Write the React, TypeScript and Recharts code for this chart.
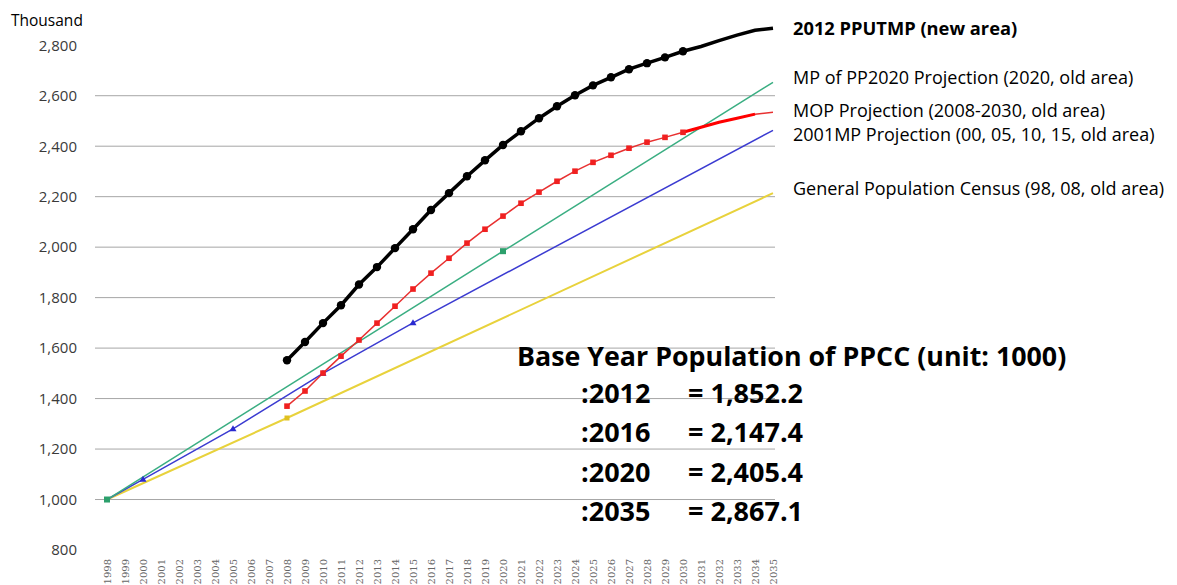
import { CartesianGrid, Line, LineChart, XAxis, YAxis } from "recharts";

const years = [
  1998, 1999, 2000, 2001, 2002, 2003, 2004, 2005, 2006, 2007, 2008, 2009, 2010,
  2011, 2012, 2013, 2014, 2015, 2016, 2017, 2018, 2019, 2020, 2021, 2022, 2023,
  2024, 2025, 2026, 2027, 2028, 2029, 2030, 2031, 2032, 2033, 2034, 2035,
];

const _ = null;

// 2012 PPUTMP (new area)
const pputmp = [
  _, _, _, _, _, _, _, _, _, _,
  1552, 1624, 1699, 1770, 1852, 1921, 1996, 2071, 2147, 2214, 2281, 2344, 2405,
  2459, 2511, 2558, 2602, 2641, 2673, 2705, 2729, 2752, 2776, 2795, 2818, 2840,
  2859, 2867,
];
// MOP Projection (2008-2030, old area)
const mop = [
  _, _, _, _, _, _, _, _, _, _,
  1370, 1430, 1501, 1568, 1632, 1699, 1766, 1834, 1897, 1956, 2016, 2071, 2123,
  2174, 2218, 2261, 2301, 2336, 2364, 2392, 2416, 2435, 2455, 2475, 2495, 2511,
  2527, 2534,
];
// MP of PP2020 Projection
const mp2020 = [
  1000, _, _, _, _, _, _, _, _, _, _, _, _, _, _, _, _, _, _, _, _, _, 1984,
  _, _, _, _, _, _, _, _, _, _, _, _, _, _, 2653,
];
// 2001MP Projection
const mp2001 = [
  1000, _, 1080, _, _, _, _, 1280, _, _, _, _, 1500, _, _, _, _, 1700, _, _, _,
  _, _, _, _, _, _, _, _, _, _, _, _, _, _, _, _, 2463,
];
// General Population Census
const census = [
  1000, _, _, _, _, _, _, _, _, _, 1323, _, _, _, _, _, _, _, _, _, _, _, _,
  _, _, _, _, _, _, _, _, _, _, _, _, _, _, 2214,
];

const pputmpMarked = years.filter((y) => y <= 2030);
const mopMarked = years.filter((y) => y <= 2030);
const mp2020Marked = [1998, 2020];
const mp2001Marked = [2000, 2005, 2010, 2015];
const censusMarked = [2008];
const mopBoldYears = [2030, 2031, 2032, 2033, 2034];

const yTicks = [800, 1000, 1200, 1400, 1600, 1800, 2000, 2200, 2400, 2600, 2800];
const gridValues = [1000, 1200, 1400, 1600, 1800, 2000, 2200, 2400, 2600];

const baseYearTitle = "Base Year Population of PPCC (unit: 1000)";
const baseYears = [":2012", ":2016", ":2020", ":2035"];
const baseValues = ["= 1,852.2", "= 2,147.4", "= 2,405.4", "= 2,867.1"];

const data = years.map((year, i) => ({
  year,
  pputmp: pputmp[i],
  mop: mop[i],
  mopBold: mopBoldYears.includes(year) ? mop[i] : null,
  mp2020: mp2020[i],
  mp2001: mp2001[i],
  census: census[i],
}));

const FONT = "'Open Sans', Lato, sans-serif";

function makeDot(marked: number[], shape: string, color: string, size: number) {
  return (props: any) => {
    const { cx, cy, payload, index } = props;
    const key = `d-${shape}-${index}`;
    if (cy == null || !marked.includes(payload.year)) return <g key={key} />;
    if (shape === "circle") {
      return <circle key={key} cx={cx} cy={cy} r={size} fill={color} />;
    }
    if (shape === "triangle") {
      return (
        <polygon
          key={key}
          points={`${cx},${cy - size} ${cx - size},${cy + size * 0.7} ${cx + size},${cy + size * 0.7}`}
          fill={color}
        />
      );
    }
    return (
      <rect
        key={key}
        x={cx - size}
        y={cy - size}
        width={size * 2}
        height={size * 2}
        fill={color}
      />
    );
  };
}

function makeEndLabel(text: string, dy: number, bold = false) {
  return (props: any) => {
    const { x, y, index } = props;
    if (index !== years.length - 1 || y == null) return <g key={`l-${index}`} />;
    return (
      <text
        key={`l-${index}`}
        x={x + 20}
        y={y + dy}
        dominantBaseline="central"
        fontFamily={FONT}
        fontSize={bold ? 18.3 : 18}
        fontWeight={bold ? 700 : 400}
        fill="#000"
      >
        {text}
      </text>
    );
  };
}

function XTick(props: any) {
  const { x, y, payload } = props;
  return (
    <text
      transform={`translate(${x},${y}) rotate(-90)`}
      textAnchor="end"
      dy="0.35em"
      fontFamily="'DejaVu Serif', serif"
      fontSize={10}
      fill="#666"
    >
      {payload.value}
    </text>
  );
}

export default function App() {
  return (
    <div
      style={{
        position: "absolute",
        left: 0,
        top: 0,
        width: 1177,
        height: 585,
        background: "#fff",
        overflow: "hidden",
      }}
    >
      <div
        style={{
          position: "absolute",
          left: 11,
          top: 10,
          fontFamily: FONT,
          fontSize: 15.5,
          lineHeight: "20px",
          color: "#000",
        }}
      >
        Thousand
      </div>
      <LineChart
        width={1177}
        height={585}
        data={data}
        margin={{ top: 20, right: 402, left: 0, bottom: 0 }}
      >
        <CartesianGrid
          horizontal
          vertical={false}
          horizontalValues={gridValues}
          stroke="#a6a6a6"
          strokeWidth={1}
        />
        <XAxis
          dataKey="year"
          type="number"
          domain={[1998, 2035]}
          ticks={years}
          interval={0}
          padding={{ left: 12, right: 2 }}
          axisLine={false}
          tickLine={false}
          tickSize={0}
          tickMargin={9}
          height={35}
          tick={<XTick />}
        />
        <YAxis
          type="number"
          domain={[800, 2900]}
          ticks={yTicks}
          interval={0}
          axisLine={false}
          tickLine={false}
          tickSize={6}
          tickMargin={12}
          width={95}
          tick={{ fontSize: 15, fill: "#3a3a3a", fontFamily: "'Open Sans', sans-serif" }}
          tickFormatter={(v) => Number(v).toLocaleString("en-US")}
        />
        <Line
          dataKey="census"
          stroke="#e8d23c"
          strokeWidth={2}
          connectNulls
          dot={makeDot(censusMarked, "rect", "#e0c020", 2.5)}
          activeDot={false}
          label={makeEndLabel("General Population Census (98, 08, old area)", -5)}
          isAnimationActive={false}
        />
        <Line
          dataKey="mp2001"
          stroke="#3b3bd1"
          strokeWidth={1.5}
          connectNulls
          dot={makeDot(mp2001Marked, "triangle", "#2a2ad0", 3.5)}
          activeDot={false}
          label={makeEndLabel("2001MP Projection (00, 05, 10, 15, old area)", 4)}
          isAnimationActive={false}
        />
        <Line
          dataKey="mp2020"
          stroke="#3aae82"
          strokeWidth={1.5}
          connectNulls
          dot={makeDot(mp2020Marked, "rect", "#2ca06c", 3)}
          activeDot={false}
          label={makeEndLabel("MP of PP2020 Projection (2020, old area)", -5)}
          isAnimationActive={false}
        />
        <Line
          dataKey="mop"
          stroke="#e83030"
          strokeWidth={1.5}
          connectNulls
          dot={makeDot(mopMarked, "rect", "#f02020", 2.8)}
          activeDot={false}
          label={makeEndLabel("MOP Projection (2008-2030, old area)", -2)}
          isAnimationActive={false}
        />
        <Line
          dataKey="mopBold"
          stroke="#ff0000"
          strokeWidth={3}
          dot={false}
          activeDot={false}
          isAnimationActive={false}
        />
        <Line
          dataKey="pputmp"
          stroke="#000"
          strokeWidth={3.5}
          connectNulls
          dot={makeDot(pputmpMarked, "circle", "#000", 4.2)}
          activeDot={false}
          label={makeEndLabel("2012 PPUTMP (new area)", -1, true)}
          isAnimationActive={false}
        />
      </LineChart>
      <div
        style={{
          position: "absolute",
          left: 517,
          top: 339,
          fontFamily: FONT,
          fontWeight: 700,
          fontSize: 26.8,
          lineHeight: "34px",
          whiteSpace: "nowrap",
          color: "#000",
        }}
      >
        {baseYearTitle}
      </div>
      {baseYears.map((label, i) => (
        <div
          key={label}
          style={{
            position: "absolute",
            left: 581,
            top: 376 + i * 39.3,
            fontFamily: FONT,
            fontWeight: 700,
            fontSize: 27,
            lineHeight: "34px",
            whiteSpace: "nowrap",
            color: "#000",
          }}
        >
          <span style={{ display: "inline-block", width: 107 }}>{label}</span>
          <span>{baseValues[i]}</span>
        </div>
      ))}
    </div>
  );
}
